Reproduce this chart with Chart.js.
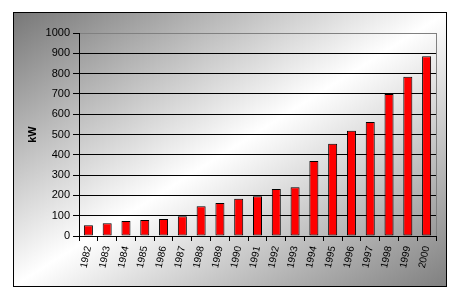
<!DOCTYPE html>
<html lang="en">
<head>
<meta charset="UTF-8">
<title>kW 1982-2000</title>
<style>
    body {
        margin: 0;
        background: #fff;
    }
    #box {
        position: absolute;
        left: 13px;
        top: 12px;
        width: 432px;
        height: 273px;
        border: 1px solid #000;
        background: linear-gradient(to bottom right, #787878 0%, #ffffff 50%, #808080 100%);
    }
    canvas {
        display: block;
    }
</style>
</head>
<body>
<div id="box">
    <canvas id="chart" width="432" height="273"></canvas>
</div>
<script src="https://cdn.jsdelivr.net/npm/chart.js"></script>
<script>
// data
const years = ['1982', '1983', '1984', '1985', '1986', '1987', '1988', '1989', '1990', '1991',
               '1992', '1993', '1994', '1995', '1996', '1997', '1998', '1999', '2000'];
const kw = [53, 63, 74, 79, 84, 97, 146, 163, 183, 196,
            232, 240, 370, 454, 518, 562, 699, 785, 886];
const yMin = 0;
const yMax = 1000;
const yStep = 100;

const font = 'Liberation Sans, Arial, sans-serif';

// gray line on the right side of the plot area
const rightBorder = {
    id: 'rightBorder',
    afterDraw(chart) {
        const a = chart.chartArea;
        const ctx = chart.ctx;
        ctx.save();
        ctx.strokeStyle = '#808080';
        ctx.lineWidth = 1;
        ctx.beginPath();
        ctx.moveTo(Math.round(a.right) + 0.5, Math.round(a.top));
        ctx.lineTo(Math.round(a.right) + 0.5, Math.round(a.bottom));
        ctx.stroke();
        ctx.restore();
    }
};

new Chart(document.getElementById('chart'), {
    type: 'bar',
    data: {
        labels: years,
        datasets: [{
            label: 'kW',
            data: kw,
            backgroundColor: '#ff0000',
            borderColor: '#000000',
            borderWidth: 1,
            borderSkipped: false,
            barPercentage: 0.48,
            categoryPercentage: 1
        }]
    },
    options: {
        responsive: false,
        animation: false,
        devicePixelRatio: 1,
        layout: {
            padding: { left: 0, top: 20, right: 10, bottom: 0 }
        },
        plugins: {
            legend: { display: false },
            tooltip: { enabled: false }
        },
        scales: {
            x: {
                afterFit(scale) { scale.height = 50; },
                grid: {
                    offset: true,
                    drawOnChartArea: false,
                    drawTicks: true,
                    tickLength: 5,
                    tickColor: '#000'
                },
                border: { color: '#000', width: 1 },
                ticks: {
                    color: '#000',
                    font: { family: font, size: 10 },
                    minRotation: 78,
                    maxRotation: 78,
                    autoSkip: false,
                    padding: 4
                }
            },
            y: {
                min: yMin,
                max: yMax,
                afterFit(scale) { scale.width = 65; },
                grid: {
                    color: (c) => c.tick && c.tick.value === yMax ? '#808080' : '#000',
                    tickColor: '#000',
                    tickLength: 6
                },
                border: { color: '#000', width: 1 },
                ticks: {
                    stepSize: yStep,
                    color: '#000',
                    font: { family: font, size: 11 },
                    padding: 3,
                    callback: (v) => String(v)
                },
                title: {
                    display: true,
                    text: 'kW',
                    color: '#000',
                    font: { family: font, size: 11, weight: 'bold' },
                    padding: { top: 12, bottom: 0 }
                }
            }
        }
    },
    plugins: [rightBorder]
});
</script>
</body>
</html>
